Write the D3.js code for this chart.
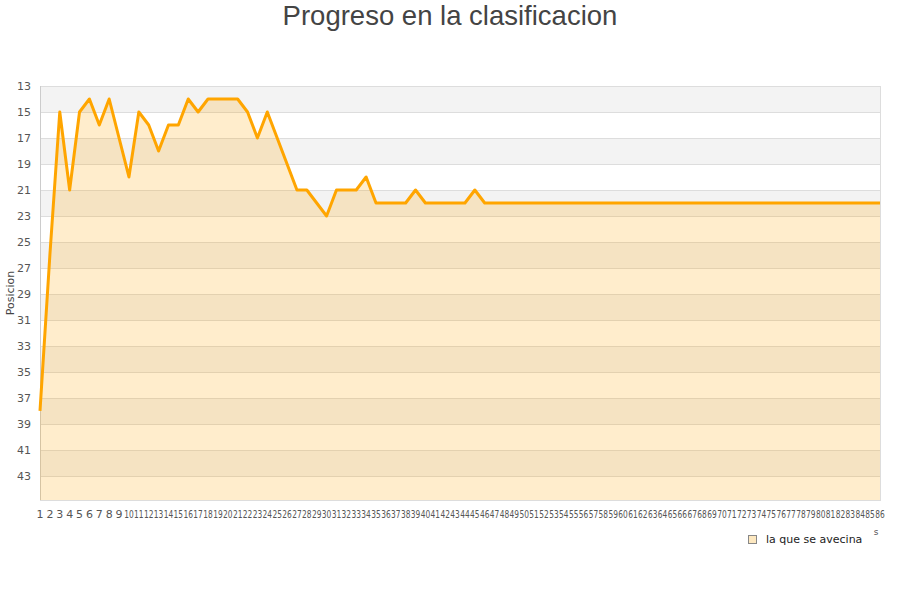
<!DOCTYPE html>
<html lang="es">
	<head>
		<meta charset="utf-8">
		<title>Progreso en la clasificacion</title>
		<script type="text/javascript" src="https://cdn.jsdelivr.net/npm/d3@7"></script>
		<style type="text/css">
		body { margin: 0; background: #fff; }
		text { font-family: "DejaVu Sans", sans-serif; }
		</style>
	</head>
	<body>
		<script type="text/javascript">

		//Width and height
		var w = 900;
		var h = 600;
		var margin = {top: 86, right: 20, bottom: 100, left: 40};

		//Data
		var jornadas = d3.range(1, 87);
		var posiciones = [38, 26, 15, 21, 15, 14, 16, 14, 17, 20,
			15, 16, 18, 16, 16, 14, 15, 14, 14, 14,
			14, 15, 17, 15, 17, 19, 21, 21, 22, 23,
			21, 21, 21, 20, 22, 22, 22, 22, 21, 22,
			22, 22, 22, 22, 21, 22, 22, 22, 22, 22,
			22, 22, 22, 22, 22, 22, 22, 22, 22, 22,
			22, 22, 22, 22, 22, 22, 22, 22, 22, 22,
			22, 22, 22, 22, 22, 22, 22, 22, 22, 22,
			22, 22, 22, 22, 22, 22];
		var yTicks = [13, 15, 17, 19, 21, 23, 25, 27, 29, 31, 33, 35, 37, 39, 41, 43];
		var serie = "la que se avecina";

		var dataset = jornadas.map(function(j, i) { return {j: j, p: posiciones[i]}; });

		var svg = d3.select("body")
					.append("svg")
					.attr("width", w)
					.attr("height", h);

		var xScale = d3.scaleLinear()
						.domain([1, 86])
						.range([margin.left, w - margin.right]);

		var yScale = d3.scaleLinear()
						.domain([13, 44.85])
						.range([margin.top, h - margin.bottom]);

		//Bands
		svg.selectAll("rect.band")
			.data(yTicks)
			.enter()
			.append("rect")
			.attr("class", "band")
			.attr("x", margin.left)
			.attr("width", w - margin.left - margin.right)
			.attr("y", function(d) { return yScale(d); })
			.attr("height", function(d) { return Math.min(yScale(d + 2), h - margin.bottom) - yScale(d); })
			.attr("fill", function(d, i) { return i % 2 == 0 ? "#f3f3f3" : "#ffffff"; });

		//Grid lines
		svg.selectAll("line.grid")
			.data(yTicks)
			.enter()
			.append("line")
			.attr("class", "grid")
			.attr("x1", margin.left)
			.attr("x2", w - margin.right)
			.attr("y1", function(d) { return Math.round(yScale(d)) + 0.5; })
			.attr("y2", function(d) { return Math.round(yScale(d)) + 0.5; })
			.attr("stroke", "#dddddd");

		//Border
		svg.append("rect")
			.attr("x", margin.left + 0.5)
			.attr("y", margin.top + 0.5)
			.attr("width", w - margin.left - margin.right)
			.attr("height", h - margin.top - margin.bottom)
			.attr("fill", "none")
			.attr("stroke", "#dddddd");

		svg.append("line")
			.attr("x1", margin.left + 0.5)
			.attr("x2", margin.left + 0.5)
			.attr("y1", margin.top)
			.attr("y2", h - margin.bottom)
			.attr("stroke", "#cccccc");

		//Area
		var area = d3.area()
					.x(function(d) { return xScale(d.j); })
					.y0(h - margin.bottom)
					.y1(function(d) { return yScale(d.p); });

		svg.append("path")
			.datum(dataset)
			.attr("d", area)
			.attr("fill", "#ffa500")
			.attr("fill-opacity", 0.2);

		//Line
		var line = d3.line()
					.x(function(d) { return xScale(d.j); })
					.y(function(d) { return yScale(d.p); });

		svg.append("path")
			.datum(dataset)
			.attr("d", line)
			.attr("fill", "none")
			.attr("stroke", "#ffa500")
			.attr("stroke-width", 3)
			.attr("stroke-linejoin", "round");

		//Y axis labels
		svg.selectAll("text.ytick")
			.data(yTicks)
			.enter()
			.append("text")
			.attr("class", "ytick")
			.attr("x", 31)
			.attr("y", function(d) { return yScale(d) + 4; })
			.attr("text-anchor", "end")
			.attr("font-size", 11)
			.attr("fill", "#555")
			.text(function(d) { return d; });

		//X axis labels (two digit ones squeezed, like the original)
		svg.selectAll("text.xtick")
			.data(jornadas)
			.enter()
			.append("text")
			.attr("class", "xtick")
			.attr("x", function(d) { return xScale(d); })
			.attr("y", 518)
			.attr("text-anchor", "middle")
			.attr("font-size", 11)
			.attr("fill", "#555")
			.attr("textLength", function(d) { return d > 9 ? 9.5 : null; })
			.attr("lengthAdjust", "spacingAndGlyphs")
			.text(function(d) { return d; });

		svg.append("text")
			.attr("x", 876)
			.attr("y", 535)
			.attr("text-anchor", "middle")
			.attr("font-size", 9)
			.attr("fill", "#555")
			.text("s");

		//Y axis title
		svg.append("text")
			.attr("transform", "translate(14,293) rotate(-90)")
			.attr("text-anchor", "middle")
			.attr("font-size", 11)
			.attr("fill", "#444")
			.text("Posicion");

		//Title
		svg.append("text")
			.attr("x", 450)
			.attr("y", 25)
			.attr("text-anchor", "middle")
			.style("font-family", "'Liberation Sans', Arial, sans-serif")
			.attr("font-size", 27.5)
			.attr("fill", "#444")
			.text("Progreso en la clasificacion");

		//Legend
		svg.append("rect")
			.attr("x", 748.5)
			.attr("y", 535.5)
			.attr("width", 8)
			.attr("height", 8)
			.attr("fill", "#fde8c0")
			.attr("stroke", "#888");

		svg.append("text")
			.attr("x", 766)
			.attr("y", 543)
			.attr("font-size", 11)
			.attr("fill", "#222")
			.text(serie);

		</script>
	</body>
</html>
